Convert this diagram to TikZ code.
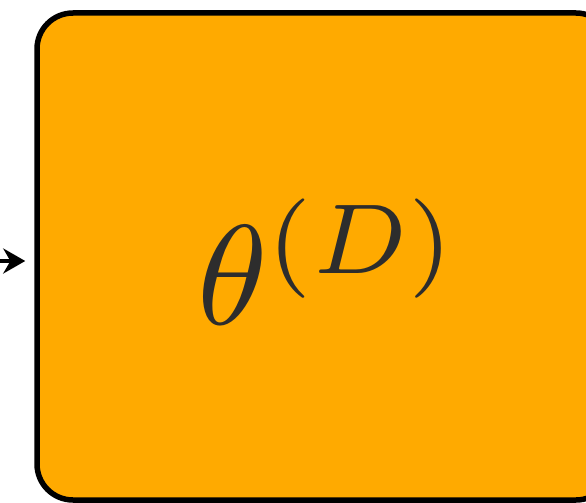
\documentclass[tikz,border=0pt]{standalone}
\usepackage{tikz}
\usetikzlibrary{arrows.meta,positioning}
\definecolor{paramorange}{RGB}{255,170,0}
\definecolor{textgray}{RGB}{45,45,45}

\begin{document}
\begin{tikzpicture}[
  x=1pt,y=-1pt,
  parambox/.style={draw=black,line width=5.5pt,fill=paramorange,
                   rounded corners=36pt,minimum width=575pt,minimum height=487pt},
  paramtext/.style={text=textgray,inner sep=0pt},
  feed/.style={line width=4pt,-{Stealth[length=22pt,width=25pt]}},
]
\useasboundingbox (0,0) rectangle (586,503);

%% parameter block (cut off at the right)
\node[parambox] (theta) at (324.5,256.5) {};
\node[paramtext] (thetalbl) at ([shift={(4,5)}]theta.center)
  {\scalebox{14.2}{$\theta^{(D)}$}};

%% incoming arrow
\coordinate (in) at (-2,261);
\draw[feed,shorten >=9pt] (in) -- (in -| theta.west);

\end{tikzpicture}
\end{document}
